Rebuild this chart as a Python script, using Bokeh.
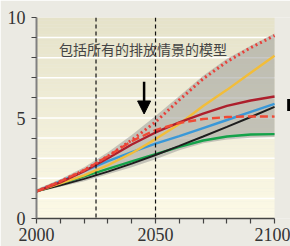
from bokeh.plotting import figure
from bokeh.models import (Range1d, FixedTicker, Span, Label, Arrow, NormalHead,
                          BoxAnnotation)
from bokeh.embed import file_html
from bokeh.resources import INLINE

# ---- data ----
years = [2000, 2010, 2020, 2030, 2040, 2050, 2060, 2070, 2080, 2090, 2100]
band_low = [1.30, 1.58, 1.85, 2.20, 2.55, 2.95, 3.40, 3.75, 3.93, 4.02, 4.05]
band_high = [1.45, 1.95, 2.55, 3.30, 4.15, 5.10, 6.10, 7.10, 7.95, 8.60, 9.20]
red_dotted = [1.35, 1.85, 2.40, 3.10, 3.90, 4.80, 5.90, 6.95, 7.80, 8.50, 9.10]
yellow = [1.35, 1.75, 2.15, 2.65, 3.25, 3.95, 4.70, 5.60, 6.40, 7.25, 8.10]
dark_red = [1.35, 1.80, 2.35, 3.00, 3.68, 4.28, 4.78, 5.22, 5.60, 5.87, 6.07]
red_dashed = [1.35, 1.85, 2.40, 3.10, 3.85, 4.40, 4.75, 4.95, 5.05, 5.08, 5.07]
blue = [1.35, 1.85, 2.35, 2.85, 3.30, 3.72, 4.10, 4.50, 4.90, 5.30, 5.70]
black = [1.35, 1.65, 1.97, 2.33, 2.73, 3.16, 3.61, 4.08, 4.56, 5.05, 5.55]
green = [1.35, 1.73, 2.10, 2.47, 2.84, 3.20, 3.56, 3.88, 4.08, 4.18, 4.20]

x_ticks = list(range(2000, 2101, 10))
x_labels = {2000: "2000", 2050: "2050", 2100: "2100"}
y_ticks = list(range(0, 11))
y_labels = {0: "0", 5: "5", 10: "10"}
marker_years = [2025, 2050]
annotation_text = "包括所有的排放情景的模型"
annotation_pos = (2044.7, 8.45)
arrow_year, arrow_top, arrow_tip = 2045.2, 6.8, 5.2

PAGE = "#ebeae3"
BG_TOP = (0xe5, 0xe2, 0xc9)
BG_BOTTOM = (0xfc, 0xf9, 0xe6)

p = figure(width=290, height=246, output_backend="svg", toolbar_location=None,
           x_range=Range1d(2000, 2106.7), y_range=Range1d(0, 10),
           min_border_left=36, min_border_right=0, min_border_top=17,
           min_border_bottom=28)
p.background_fill_color = PAGE
p.border_fill_color = PAGE
p.outline_line_color = None
p.grid.visible = False

# gradient plot background
n = 60
bots, tops, cols = [], [], []
for i in range(n):
    b = 10 * i / n
    t = 10 * (i + 1) / n
    f = (i + 0.5) / n
    c = tuple(int(round(BG_BOTTOM[k] + (BG_TOP[k] - BG_BOTTOM[k]) * f)) for k in range(3))
    bots.append(b); tops.append(t); cols.append("#%02x%02x%02x" % c)
p.quad(left=years[0], right=years[-1], bottom=bots, top=tops, fill_color=cols,
       line_color=None)

# white grid lines
gy = y_ticks[1:-1]
p.segment(x0=[years[0]] * len(gy), x1=[years[-1]] * len(gy), y0=gy, y1=gy,
          line_color="white", line_width=1.5)

# uncertainty band
p.varea(x=years, y1=band_low, y2=band_high, fill_color="#a3a49e", fill_alpha=0.6)

for yr in marker_years:
    p.add_layout(Span(location=yr, dimension="height", line_color="#111",
                      line_dash="4 3", line_width=1.2))

lw = 2.4
p.line(years, green, line_color="#14a24a", line_width=lw)
p.line(years, black, line_color="#1e1e1e", line_width=lw * 0.8)
p.line(years, blue, line_color="#3a98d8", line_width=lw)
p.line(years, yellow, line_color="#f2bd3a", line_width=lw)
p.line(years, dark_red, line_color="#ad1f2c", line_width=lw)
p.line(years, red_dashed, line_color="#ef4a35", line_width=lw, line_dash="8 4")
p.line(years, red_dotted, line_color="#e8403a", line_width=3, line_dash="2 3")

p.add_layout(Label(x=annotation_pos[0], y=annotation_pos[1], text=annotation_text,
                   text_align="center", text_baseline="middle",
                   text_font="Noto Sans CJK SC", text_font_size="14px",
                   text_color="#444444"))
p.add_layout(Arrow(end=NormalHead(size=13, fill_color="black", line_color="black"),
                   x_start=arrow_year, y_start=arrow_top, x_end=arrow_year,
                   y_end=arrow_tip, line_width=2.5, line_color="black"))
p.add_layout(BoxAnnotation(left=2105.3, right=2108, bottom=5.35, top=5.95,
                           fill_color="black", fill_alpha=1, line_color=None))

# axes
xa = p.xaxis[0]
xa.ticker = FixedTicker(ticks=x_ticks)
xa.major_label_overrides = {t: x_labels.get(t, "") for t in x_ticks}
xa.bounds = (2000, 2100)
xa.axis_line_color = "#444"
xa.axis_line_width = 1.5
xa.major_tick_line_color = "#444"
xa.major_tick_line_width = 1.2
xa.major_tick_out = 5
xa.major_tick_in = 0
xa.minor_tick_line_color = None
xa.major_label_standoff = 4
xa.major_label_text_font = "Liberation Serif"
xa.major_label_text_font_size = "18px"
xa.major_label_text_color = "#333"

ya = p.yaxis[0]
ya.ticker = FixedTicker(ticks=y_ticks)
ya.major_label_overrides = {t: y_labels.get(t, "") for t in y_ticks}
ya.bounds = (0, 10)
ya.axis_line_color = "#808080"
ya.axis_line_width = 2
ya.major_tick_line_color = "#444"
ya.major_tick_line_width = 1.2
ya.major_tick_out = 5
ya.major_tick_in = 0
ya.minor_tick_line_color = None
ya.major_label_standoff = 6
ya.major_label_text_font = "Liberation Serif"
ya.major_label_text_font_size = "18px"
ya.major_label_text_color = "#333"

open("out.html", "w").write(file_html(p, INLINE))
